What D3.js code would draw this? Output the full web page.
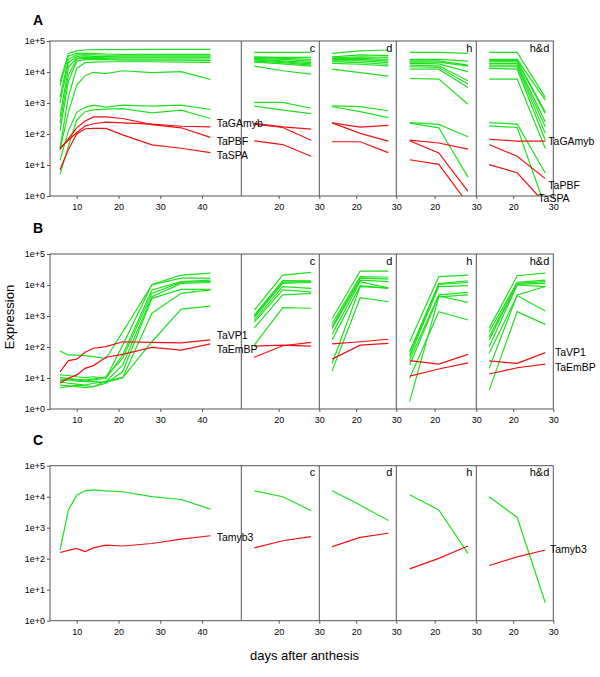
<!DOCTYPE html>
<html><head><meta charset="utf-8">
<script src="https://cdn.jsdelivr.net/npm/d3@7"></script>
<style>body{margin:0;background:#fff}svg{display:block}text{font-family:"Liberation Sans",Arial,sans-serif}</style>
</head><body><svg id="chart" width="600" height="677"></svg>
<script>
// ---------- data (expression values given as log10) ----------
const mainDays = [6, 8, 10, 12, 14, 17, 21, 28, 35, 42];
const subDays = [14, 21, 28];
const conditions = ["c", "d", "h", "h&d"];
const yTickValues = [0, 1, 2, 3, 4, 5];
const yTickLabels = ["1e+0", "1e+1", "1e+2", "1e+3", "1e+4", "1e+5"];
const mainXTicks = [10, 20, 30, 40];
const subXTicks = [20, 30];

// Panel A
const aGreenMain = [
  [3.69, 4.60, 4.68, 4.71, 4.72, 4.72, 4.72, 4.73, 4.73, 4.73],
  [3.55, 4.52, 4.60, 4.60, 4.60, 4.58, 4.57, 4.57, 4.57, 4.57],
  [3.20, 4.40, 4.55, 4.55, 4.55, 4.54, 4.54, 4.54, 4.54, 4.54],
  [3.00, 4.30, 4.50, 4.52, 4.50, 4.50, 4.49, 4.49, 4.49, 4.49],
  [2.55, 4.15, 4.45, 4.47, 4.47, 4.46, 4.46, 4.46, 4.46, 4.46],
  [2.35, 3.90, 4.42, 4.43, 4.43, 4.43, 4.42, 4.42, 4.42, 4.42],
  [2.10, 3.70, 4.35, 4.40, 4.40, 4.40, 4.38, 4.38, 4.38, 4.37],
  [1.55, 3.20, 4.12, 4.30, 4.32, 4.33, 4.33, 4.33, 4.32, 4.31],
  [1.50, 2.70, 3.58, 3.88, 3.99, 3.95, 4.04, 3.98, 4.01, 3.76],
  [1.15, 2.10, 2.70, 2.86, 2.93, 2.87, 2.93, 2.90, 2.93, 2.79],
  [0.70, 1.60, 2.45, 2.72, 2.78, 2.80, 2.82, 2.68, 2.77, 2.50]
];
const aRedNames = ["TaGAmyb", "TaPBF", "TaSPA"];
const aRedMain = [
  [1.55, 1.80, 2.05, 2.26, 2.33, 2.38, 2.36, 2.32, 2.25, 2.23],
  [1.50, 1.85, 2.20, 2.42, 2.55, 2.55, 2.50, 2.30, 2.20, 1.89],
  [0.85, 1.50, 2.00, 2.17, 2.18, 2.18, 1.97, 1.65, 1.54, 1.40]
];
const aGreenC = [[4.63,4.63,4.63],[4.49,4.47,4.47],[4.47,4.44,4.41],[4.44,4.41,4.35],[4.41,4.36,4.30],[4.39,4.33,4.26],[4.35,4.30,4.22],[4.32,4.26,4.19],[4.19,4.04,3.93],[3.02,3.02,2.83],[2.90,2.77,2.66]];
const aGreenD = [[4.60,4.68,4.71],[4.49,4.55,4.53],[4.46,4.49,4.47],[4.43,4.44,4.41],[4.40,4.41,4.35],[4.36,4.36,4.30],[4.33,4.30,4.25],[4.28,4.25,4.20],[4.09,3.98,3.87],[2.91,2.88,2.75],[2.88,2.72,2.53]];
const aGreenH = [[4.63,4.63,4.60],[4.41,4.41,4.35],[4.36,4.36,4.22],[4.32,4.32,4.19],[4.28,4.26,4.01],[4.22,4.20,3.72],[4.17,4.15,3.61],[4.09,4.09,3.50],[3.79,3.77,2.96],[2.37,2.31,1.91],[2.35,2.20,0.61]];
const aGreenHD = [[4.63,4.63,3.18],[4.41,4.41,3.09],[4.37,4.37,2.72],[4.33,4.33,2.66],[4.28,4.28,2.39],[4.22,4.22,2.23],[4.17,4.17,2.02],[4.12,4.09,1.80],[3.77,3.77,1.53],[2.37,2.32,0.74],[2.26,2.21,-0.36]];
const aRedC = [[2.34,2.23,2.16],[2.32,2.21,1.80],[1.78,1.66,1.28]];
const aRedD = [[2.36,2.22,2.28],[2.36,2.02,1.77],[1.75,1.75,1.40]];
const aRedH = [[1.80,1.71,1.51],[1.78,1.39,0.15],[1.17,1.02,-0.25]];
const aRedHD = [[1.83,1.77,1.77],[1.66,1.28,0.56],[1.01,0.75,-0.25]];

// Panel B
const bGreenMain = [
  [0.94, 0.97, 0.94, 0.90, 0.94, 0.99, 2.06, 4.02, 4.32, 4.38],
  [1.87, 1.74, 1.74, 1.72, 1.69, 1.63, 2.49, 4.00, 4.22, 4.22],
  [1.10, 1.08, 1.04, 1.01, 1.04, 0.99, 1.74, 3.84, 4.11, 4.16],
  [1.01, 0.99, 0.96, 0.94, 0.97, 1.04, 1.63, 3.73, 4.09, 4.11],
  [0.88, 0.83, 0.80, 0.77, 0.83, 0.88, 1.42, 3.62, 4.05, 4.08],
  [0.77, 0.75, 0.72, 0.69, 0.72, 0.83, 1.20, 3.57, 3.86, 3.86],
  [0.69, 0.72, 0.77, 0.75, 0.72, 0.90, 1.01, 3.09, 3.73, 3.84],
  [0.90, 0.94, 0.90, 0.88, 0.88, 0.86, 1.01, 2.17, 3.22, 3.32]
];
const bRedNames = ["TaVP1", "TaEmBP"];
const bRedMain = [
  [1.20, 1.56, 1.61, 1.83, 1.96, 2.01, 2.17, 2.15, 2.13, 2.23],
  [0.83, 0.99, 1.10, 1.31, 1.40, 1.67, 1.76, 1.99, 1.90, 2.10]
];
const bGreenC = [[3.19,4.32,4.41],[3.03,4.14,4.13],[3.00,4.09,4.11],[2.95,4.05,4.08],[2.87,3.95,3.89],[2.80,3.84,3.78],[2.62,3.68,3.73],[2.06,3.27,3.25]];
const bGreenD = [[2.92,4.45,4.45],[2.76,4.27,4.25],[2.66,4.22,4.19],[2.60,4.16,4.11],[2.41,4.11,3.91],[2.23,3.98,3.89],[1.47,3.95,3.91],[1.23,3.59,3.46]];
const bGreenH = [[2.17,4.27,4.32],[1.85,4.05,4.13],[1.76,4.02,4.08],[1.69,3.95,3.98],[1.58,3.68,3.76],[1.42,3.65,3.44],[0.99,3.14,2.87],[0.24,3.62,3.68]];
const bGreenHD = [[2.60,4.30,4.38],[2.49,4.09,4.16],[2.33,4.05,4.11],[2.23,4.02,4.05],[2.01,4.00,3.95],[1.80,3.66,3.16],[1.31,3.68,3.95],[0.61,3.14,2.73]];
const bRedC = [[2.03,2.06,2.03],[1.67,2.04,2.15]];
const bRedD = [[2.10,2.17,2.25],[1.61,2.06,2.12]];
const bRedH = [[1.56,1.45,1.76],[1.06,1.29,1.49]];
const bRedHD = [[1.55,1.47,1.82],[1.13,1.33,1.45]];

// Panel C
const cGreenMain = [[2.28, 3.57, 4.05, 4.19, 4.22, 4.19, 4.16, 4.00, 3.91, 3.60]];
const cRedNames = ["Tamyb3"];
const cRedMain = [[2.20, 2.27, 2.33, 2.23, 2.35, 2.44, 2.41, 2.49, 2.63, 2.74]];
const cGreenC = [[4.19, 4.00, 3.55]];
const cGreenD = [[4.19, 3.73, 3.23]];
const cGreenH = [[4.06, 3.57, 2.17]];
const cGreenHD = [[4.00, 3.33, 0.58]];
const cRedC = [[2.35, 2.58, 2.71]];
const cRedD = [[2.39, 2.69, 2.82]];
const cRedH = [[1.67, 2.01, 2.41]];
const cRedHD = [[1.78, 2.06, 2.28]];

// ---------- layout ----------
const svg = d3.select("#chart");
svg.append("rect").attr("width", 600).attr("height", 677).attr("fill", "#fff");
const FONT = '"Liberation Sans", Arial, sans-serif';
const GREEN = "#1fe01f", RED = "#ee1111", FRAME = "#555";
const mainBounds = [50, 241.3];
const subBounds = [[241.3, 319.3], [319.3, 396.3], [396.3, 476.3], [476.3, 553.3]];

const rows = [
  { letter: "A", letterY: 25, top: 41, bottom: 196,
    gMain: aGreenMain, rMain: aRedMain, gSub: [aGreenC, aGreenD, aGreenH, aGreenHD], rSub: [aRedC, aRedD, aRedH, aRedHD],
    labels: [[aRedNames[0], 216.7, 127], [aRedNames[1], 216.7, 144.5], [aRedNames[2], 216.7, 158.5],
             [aRedNames[0], 548.3, 145], [aRedNames[1], 548.3, 189], [aRedNames[2], 538.3, 201.5]] },
  { letter: "B", letterY: 233, top: 254, bottom: 409,
    gMain: bGreenMain, rMain: bRedMain, gSub: [bGreenC, bGreenD, bGreenH, bGreenHD], rSub: [bRedC, bRedD, bRedH, bRedHD],
    labels: [[bRedNames[0], 216.7, 338.5], [bRedNames[1], 216.7, 352.5],
             [bRedNames[0], 555, 356], [bRedNames[1], 555, 370.5]] },
  { letter: "C", letterY: 445, top: 465.7, bottom: 620.7,
    gMain: cGreenMain, rMain: cRedMain, gSub: [cGreenC, cGreenD, cGreenH, cGreenHD], rSub: [cRedC, cRedD, cRedH, cRedHD],
    labels: [[cRedNames[0], 216.7, 540.5], [cRedNames[0], 550, 553]] }
];

function styleAxis(g) {
  g.select(".domain").remove();
  g.selectAll(".tick line").attr("stroke", FRAME);
  g.selectAll(".tick text").attr("fill", "#000").attr("font-size", 9).attr("font-family", FONT);
}

rows.forEach((row, ri) => {
  const y = d3.scaleLinear().domain([0, 5]).range([row.bottom, row.top]);
  const panels = [{ x0: mainBounds[0], x1: mainBounds[1], domain: [3.6, 49.4], ticks: mainXTicks, days: mainDays, green: row.gMain, red: row.rMain }]
    .concat(subBounds.map((b, k) => ({ x0: b[0], x1: b[1], domain: [10.8, 30], ticks: subXTicks, days: subDays, green: row.gSub[k], red: row.rSub[k], cond: conditions[k] })));

  panels.forEach((p, pi) => {
    const x = d3.scaleLinear().domain(p.domain).range([p.x0, p.x1]);
    const clipId = `clip${ri}_${pi}`;
    svg.append("clipPath").attr("id", clipId).append("rect")
      .attr("x", p.x0).attr("y", row.top).attr("width", p.x1 - p.x0).attr("height", row.bottom - row.top);
    const line = d3.line().x((d, i) => x(p.days[i])).y(d => y(d));
    const lg = svg.append("g").attr("clip-path", `url(#${clipId})`);
    lg.selectAll("path.gr").data(p.green).join("path").attr("class", "gr")
      .attr("d", line).attr("fill", "none").attr("stroke", GREEN).attr("stroke-width", 1.2);
    lg.selectAll("path.rd").data(p.red).join("path").attr("class", "rd")
      .attr("d", line).attr("fill", "none").attr("stroke", RED).attr("stroke-width", 1.2);

    svg.append("g").attr("transform", `translate(0,${row.bottom})`)
      .call(d3.axisBottom(x).tickValues(p.ticks).tickSize(3).tickSizeOuter(0).tickPadding(5))
      .call(styleAxis);

    if (p.cond) {
      svg.append("text").attr("x", p.x1 - 4).attr("y", row.top + 10.5).attr("text-anchor", "end")
        .attr("font-size", 11).attr("font-family", FONT).text(p.cond);
    }
  });

  svg.append("g").attr("transform", `translate(${mainBounds[0]},0)`)
    .call(d3.axisLeft(y).tickValues(yTickValues).tickFormat(i => yTickLabels[i]).tickSize(3).tickPadding(2))
    .call(styleAxis);

  svg.append("rect").attr("x", mainBounds[0]).attr("y", row.top)
    .attr("width", subBounds[3][1] - mainBounds[0]).attr("height", row.bottom - row.top)
    .attr("fill", "none").attr("stroke", FRAME).attr("stroke-width", 1);
  subBounds.forEach(b => {
    svg.append("line").attr("x1", b[0]).attr("x2", b[0]).attr("y1", row.top).attr("y2", row.bottom)
      .attr("stroke", FRAME).attr("stroke-width", 1);
  });

  svg.append("text").attr("x", 38).attr("y", row.letterY).attr("text-anchor", "middle")
    .attr("font-size", 14).attr("font-weight", "bold").attr("font-family", FONT).text(row.letter);

  row.labels.forEach(l => {
    svg.append("text").attr("x", l[1]).attr("y", l[2]).attr("font-size", 10.5)
      .attr("font-family", FONT).text(l[0]);
  });
});

svg.append("text").attr("x", 304.5).attr("y", 659.5).attr("text-anchor", "middle")
  .attr("font-size", 13).attr("font-family", FONT).text("days after anthesis");
svg.append("text").attr("transform", "translate(14,317) rotate(-90)").attr("text-anchor", "middle")
  .attr("font-size", 13).attr("font-family", FONT).text("Expression");
</script></body></html>
